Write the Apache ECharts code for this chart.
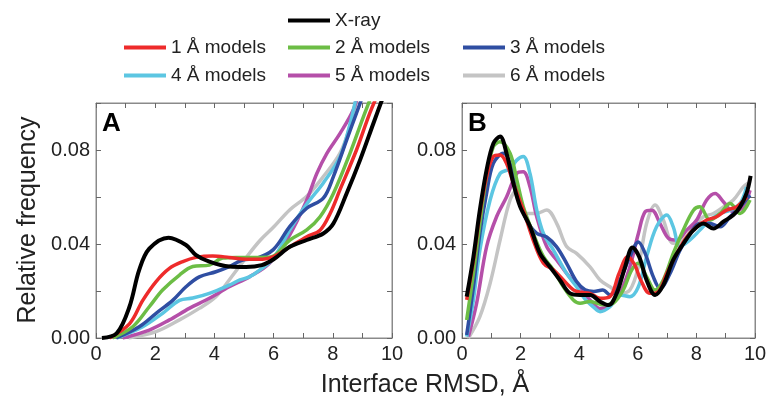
<!DOCTYPE html>
<html>
<head>
<meta charset="utf-8">
<script src="https://cdn.jsdelivr.net/npm/echarts@6/dist/echarts.min.js"></script>
<style>
  html, body { margin: 0; padding: 0; background: #fff; }
  #main { width: 771px; height: 405px; }
</style>
</head>
<body>
<div id="main"></div>
<script>
// 面板 A 数据 [x, y]
var aXray = [[0.2,0],[0.7,0.002],[1.13,0.0133],[1.46,0.029],[1.8,0.038],[2.45,0.0427],[3.04,0.0396],[3.38,0.0353],[3.83,0.0325],[4.5,0.0304],[5.07,0.0302],[5.6,0.031],[6.0,0.0335],[6.55,0.0388],[7.12,0.0417],[7.68,0.0445],[8.02,0.0487],[8.47,0.0616],[8.92,0.0757],[9.37,0.0913],[9.8,0.106]];
var a1 = [[0.45,0],[1.13,0.006],[1.58,0.016],[2.03,0.024],[2.48,0.0296],[2.93,0.0325],[3.38,0.0343],[3.94,0.0349],[4.5,0.0343],[5.07,0.0335],[5.63,0.0335],[6.0,0.0346],[6.55,0.0388],[7.12,0.0431],[7.57,0.0459],[7.91,0.053],[8.24,0.063],[8.8,0.08],[9.25,0.0957],[9.6,0.106]];
var a2 = [[0.56,0],[1.24,0.0048],[1.8,0.0133],[2.25,0.0204],[2.82,0.0268],[3.27,0.0304],[3.83,0.031],[4.28,0.034],[4.73,0.0343],[5.3,0.0343],[5.9,0.0345],[6.55,0.0417],[7.12,0.046],[7.57,0.0516],[8.02,0.0615],[8.58,0.0786],[9.03,0.094],[9.4,0.106]];
var a3 = [[0.68,0],[1.46,0.0048],[2.03,0.0105],[2.59,0.016],[3.04,0.0218],[3.49,0.026],[4.05,0.0282],[4.5,0.0304],[4.95,0.0332],[5.4,0.0338],[5.99,0.0376],[6.55,0.0475],[7.12,0.0552],[7.68,0.0595],[8.02,0.0687],[8.47,0.0843],[8.8,0.0957],[9.1,0.106]];
var a4 = [[0.7,0],[1.58,0.0048],[2.25,0.0105],[2.82,0.016],[3.27,0.017],[3.83,0.019],[4.5,0.0225],[4.86,0.0247],[5.18,0.026],[5.54,0.029],[6.0,0.034],[6.55,0.046],[7.12,0.057],[7.68,0.066],[8.24,0.077],[8.58,0.091],[8.85,0.106]];
var a5 = [[0.9,0],[1.8,0.0034],[2.48,0.0077],[3.15,0.0126],[3.83,0.0169],[4.5,0.0218],[5.18,0.026],[5.86,0.0318],[6.55,0.044],[7.12,0.0587],[7.46,0.07],[7.8,0.0786],[8.24,0.087],[8.69,0.097],[8.9,0.106]];
var a6 = [[1.1,0],[2.03,0.0027],[2.82,0.0077],[3.49,0.0126],[4.05,0.0176],[4.5,0.0247],[5.07,0.0342],[5.54,0.0415],[6.0,0.0472],[6.55,0.0546],[7.12,0.0603],[7.68,0.0687],[8.24,0.0786],[8.58,0.09],[8.9,0.106]];

// 面板 B 数据 [x, y]
var bXray = [[0.16,0.0176],[0.39,0.0346],[0.61,0.0545],[0.84,0.0715],[1.07,0.0828],[1.3,0.0857],[1.52,0.0786],[1.75,0.066],[1.98,0.056],[2.32,0.0475],[2.66,0.036],[3.0,0.0303],[3.34,0.0247],[3.69,0.019],[4.03,0.0183],[4.37,0.0183],[4.71,0.0155],[5.0,0.014],[5.28,0.019],[5.56,0.03],[5.82,0.0385],[6.05,0.0345],[6.3,0.0247],[6.59,0.0183],[6.87,0.0225],[7.21,0.0332],[7.55,0.04],[7.9,0.0459],[8.24,0.0487],[8.58,0.0466],[8.92,0.0495],[9.26,0.0523],[9.49,0.0558],[9.71,0.0615],[9.85,0.069]];
var b1 = [[0.16,0.0162],[0.39,0.033],[0.61,0.053],[0.84,0.0687],[1.07,0.0772],[1.3,0.0779],[1.52,0.0743],[1.75,0.066],[2.09,0.0545],[2.43,0.0417],[2.78,0.0318],[3.12,0.029],[3.46,0.0247],[3.8,0.0205],[4.03,0.0195],[4.37,0.019],[4.71,0.0169],[5.05,0.0176],[5.36,0.0275],[5.66,0.0346],[5.9,0.031],[6.1,0.0247],[6.41,0.019],[6.7,0.0197],[6.99,0.0275],[7.33,0.036],[7.67,0.043],[8.01,0.0473],[8.35,0.0502],[8.69,0.0516],[9.03,0.0544],[9.37,0.0558],[9.72,0.06]];
var b2 = [[0.16,0.0077],[0.39,0.0275],[0.61,0.0487],[0.84,0.0687],[1.07,0.0814],[1.3,0.0835],[1.64,0.0786],[1.87,0.0673],[2.09,0.056],[2.43,0.0445],[2.78,0.0346],[3.12,0.029],[3.46,0.0218],[3.8,0.0162],[4.03,0.0148],[4.37,0.0155],[4.82,0.0141],[5.16,0.0148],[5.5,0.0204],[5.79,0.0289],[6.02,0.0318],[6.3,0.0261],[6.59,0.0204],[6.87,0.0247],[7.21,0.036],[7.55,0.0459],[7.9,0.0544],[8.12,0.0558],[8.46,0.0502],[8.81,0.053],[9.15,0.0572],[9.49,0.053],[9.83,0.0587]];
var b3 = [[0.16,0.0013],[0.39,0.0218],[0.61,0.0445],[0.84,0.0616],[1.07,0.0743],[1.41,0.0786],[1.64,0.0743],[1.87,0.063],[2.2,0.0503],[2.55,0.0445],[2.89,0.043],[3.23,0.0388],[3.57,0.0318],[3.91,0.024],[4.2,0.0205],[4.5,0.0198],[4.8,0.0204],[5.05,0.0183],[5.39,0.0247],[5.73,0.0346],[6.02,0.0409],[6.25,0.036],[6.53,0.026],[6.76,0.0211],[7.1,0.0275],[7.44,0.0374],[7.78,0.0445],[8.12,0.0487],[8.46,0.0487],[8.81,0.0473],[9.15,0.0516],[9.49,0.0558],[9.83,0.0608]];
var b4 = [[0.16,0.0006],[0.39,0.0162],[0.61,0.0374],[0.96,0.0587],[1.3,0.07],[1.64,0.072],[1.87,0.0757],[2.09,0.0772],[2.32,0.07],[2.55,0.0545],[2.78,0.0445],[3.12,0.0374],[3.57,0.0275],[3.91,0.0218],[4.2,0.0165],[4.5,0.013],[4.71,0.0112],[5.05,0.0133],[5.39,0.0183],[5.73,0.0176],[6.02,0.0218],[6.3,0.0346],[6.64,0.0473],[6.99,0.0523],[7.21,0.0473],[7.44,0.0389],[7.78,0.0417],[8.12,0.0459],[8.46,0.0502],[8.81,0.053],[9.15,0.0544],[9.49,0.0572],[9.71,0.0643]];
var b5 = [[0.22,0.0006],[0.5,0.0148],[0.84,0.0389],[1.18,0.0516],[1.52,0.06],[1.87,0.07],[2.09,0.0707],[2.32,0.0644],[2.55,0.0516],[2.89,0.0389],[3.23,0.0332],[3.57,0.0275],[3.95,0.0218],[4.37,0.0162],[4.71,0.0126],[5.05,0.014],[5.39,0.019],[5.73,0.0303],[6.02,0.0445],[6.25,0.0537],[6.48,0.0544],[6.76,0.0487],[7.05,0.0424],[7.33,0.0417],[7.67,0.0459],[8.01,0.0502],[8.35,0.0587],[8.64,0.0615],[8.92,0.058],[9.26,0.0537],[9.6,0.0558],[9.83,0.0629]];
var b6 = [[0.22,0],[0.61,0.0091],[0.96,0.0233],[1.3,0.0417],[1.64,0.0587],[1.87,0.063],[2.2,0.053],[2.55,0.053],[2.89,0.0545],[3.23,0.0488],[3.57,0.0389],[3.91,0.036],[4.37,0.0303],[4.71,0.0247],[5.05,0.0218],[5.39,0.019],[5.73,0.0204],[6.02,0.0303],[6.3,0.0487],[6.59,0.0566],[6.87,0.0502],[7.21,0.0403],[7.55,0.0417],[7.9,0.0473],[8.24,0.0516],[8.58,0.053],[8.92,0.0558],[9.26,0.0587],[9.6,0.0643],[9.77,0.066]];

var names = ['X-ray', '1 Å models', '2 Å models', '3 Å models', '4 Å models', '5 Å models', '6 Å models'];
var colors = ['#000000', '#ee2b2b', '#6cbd45', '#2f4ea2', '#5cc6e2', '#b54fa9', '#c4c4c4'];
var dataA = [aXray, a1, a2, a3, a4, a5, a6];
var dataB = [bXray, b1, b2, b3, b4, b5, b6];

var font = 'Liberation Sans, Arial, sans-serif';
var frameColor = '#8a8a8a';
var tickColor = '#666';

var myChart = echarts.init(document.getElementById('main'));

function xAx(grid, pos, labels) {
    return {
        type: 'value', gridIndex: grid, position: pos,
        min: 0, max: 10, interval: 1,
        axisLine: { show: true, onZero: false, lineStyle: { color: frameColor, width: 1 } },
        axisTick: { show: true, inside: true, length: 5, lineStyle: { color: tickColor } },
        splitLine: { show: false },
        axisLabel: {
            show: labels, margin: 6, color: '#222', fontSize: 20, fontFamily: font,
            formatter: function (v) { return v % 2 === 0 ? String(v) : ''; }
        }
    };
}
function yAx(grid, pos, labels) {
    return {
        type: 'value', gridIndex: grid, position: pos,
        min: 0, max: 0.1, interval: 0.02,
        axisLine: { show: true, onZero: false, lineStyle: { color: frameColor, width: 1 } },
        axisTick: { show: true, inside: true, length: 5, lineStyle: { color: tickColor } },
        splitLine: { show: false },
        axisLabel: {
            show: labels, margin: 6, color: '#222', fontSize: 20, fontFamily: font,
            formatter: function (v) {
                var k = Math.round(v * 100);
                return (k % 4 === 0 && k < 10) ? v.toFixed(2) : '';
            }
        }
    };
}

var series = [];
for (var i = names.length - 1; i >= 0; i--) {
    [dataA, dataB].forEach(function (d, g) {
        series.push({
            name: names[i], type: 'line',
            xAxisIndex: g * 2, yAxisIndex: g * 2,
            data: d[i], smooth: 0.35, symbol: 'none', clip: true,
            lineStyle: { color: colors[i], width: i === 0 ? 4 : 3.5 },
            itemStyle: { color: colors[i] }
        });
    });
}

function leg(name, left, top) {
    return {
        data: [name], left: left, top: top, padding: 0,
        icon: 'rect', itemWidth: 42, itemHeight: 4,
        textStyle: { fontSize: 19, color: '#222', fontFamily: font },
        selectedMode: false
    };
}

var option = {
    animation: false,
    backgroundColor: '#fff',
    grid: [
        { left: 96, top: 103, width: 296, height: 235, show: true, borderColor: frameColor, borderWidth: 1 },
        { left: 462, top: 103, width: 293, height: 235, show: true, borderColor: frameColor, borderWidth: 1 }
    ],
    xAxis: [xAx(0, 'bottom', true), xAx(0, 'top', false), xAx(1, 'bottom', true), xAx(1, 'top', false)],
    yAxis: [yAx(0, 'left', true), yAx(0, 'right', false), yAx(1, 'left', true), yAx(1, 'right', false)],
    legend: [
        leg(names[0], 288, 11),
        leg(names[1], 124, 38), leg(names[2], 288, 38), leg(names[3], 463, 38),
        leg(names[4], 124, 66), leg(names[5], 288, 66), leg(names[6], 463, 66)
    ],
    graphic: [
        { type: 'text', left: 102, top: 111, style: { text: 'A', fontSize: 26, fontWeight: 'bold', fontFamily: font, fill: '#000' } },
        { type: 'text', left: 468, top: 111, style: { text: 'B', fontSize: 26, fontWeight: 'bold', fontFamily: font, fill: '#000' } },
        { type: 'text', x: 425, y: 385, style: { text: 'Interface RMSD, Å', fontSize: 25, fontFamily: font, fill: '#222', align: 'center', verticalAlign: 'middle' } },
        { type: 'text', x: 28, y: 220, rotation: Math.PI / 2, style: { text: 'Relative frequency', fontSize: 25, fontFamily: font, fill: '#222', align: 'center', verticalAlign: 'middle' } }
    ],
    series: series
};

myChart.setOption(option);
</script>
</body>
</html>
